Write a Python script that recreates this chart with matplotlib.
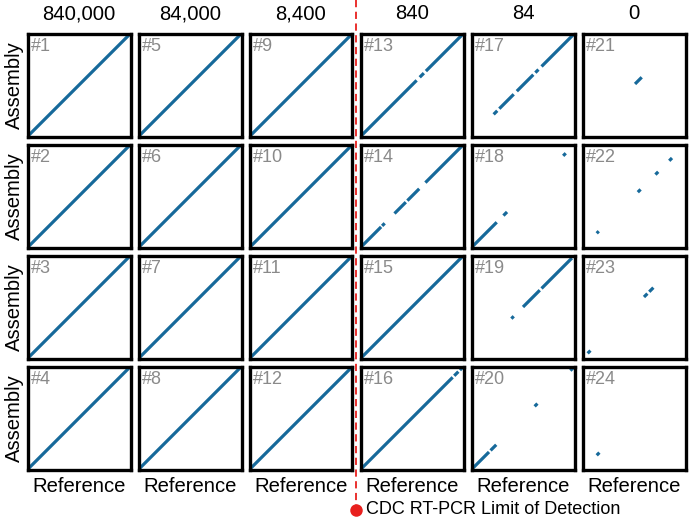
import matplotlib
matplotlib.use("Agg")
import matplotlib.pyplot as plt
from matplotlib.lines import Line2D

plt.rcParams['font.family'] = ['Liberation Sans', 'DejaVu Sans']

# Viral copies per column (dilution series)
concentrations = ["840,000", "84,000", "8,400", "840", "84", "0"]
n_rows = 4
lod_after_column = 3  # CDC limit of detection between column 3 and 4

# Aligned segments along the diagonal for each sample (#1..#24), as fractions of the genome
segments = {
    1: [(0.0, 1.0)], 2: [(0.0, 1.0)], 3: [(0.0, 1.0)], 4: [(0.0, 1.0)],
    5: [(0.0, 1.0)], 6: [(0.0, 1.0)], 7: [(0.0, 1.0)], 8: [(0.0, 1.0)],
    9: [(0.0, 1.0)], 10: [(0.0, 1.0)], 11: [(0.0, 1.0)], 12: [(0.0, 1.0)],
    13: [(0.0, 0.545), (0.575, 0.615), (0.635, 1.0)],
    14: [(0.0, 0.2), (0.21, 0.235), (0.33, 0.44), (0.455, 0.57), (0.63, 1.0)],
    15: [(0.0, 1.0)],
    16: [(0.0, 0.895), (0.91, 0.95), (0.965, 1.0)],
    17: [(0.215, 0.25), (0.27, 0.41), (0.44, 0.6), (0.62, 0.65), (0.68, 1.0)],
    18: [(0.0, 0.245), (0.31, 0.345), (0.89, 0.915)],
    19: [(0.387, 0.41), (0.5, 0.663), (0.68, 0.975)],
    20: [(0.007, 0.17), (0.185, 0.24), (0.613, 0.64), (0.96, 0.995)],
    21: [(0.51, 0.575)],
    22: [(0.0, 0.01), (0.138, 0.158), (0.537, 0.564), (0.708, 0.735), (0.842, 0.869)],
    23: [(0.05, 0.077), (0.597, 0.63), (0.648, 0.688)],
    24: [(0.138, 0.164)],
}

W, H = 692, 523
fig = plt.figure(figsize=(W / 100, H / 100), dpi=100)

line_color = '#16699a'
label_gray = '#8a8a8a'
left0, top0, step, size = 27.5, 33.5, 111.0, 103.0
big_font = 14.6

for j, conc in enumerate(concentrations):
    for i in range(n_rows):
        sample = 4 * j + i + 1
        left = left0 + step * j
        top = top0 + step * i
        ax = fig.add_axes([left / W, 1 - (top + size) / H, size / W, size / H])
        for s, e in segments[sample]:
            ax.plot([s, e], [s, e], color=line_color, lw=2.3, solid_capstyle='butt')
        ax.set_xlim(0, 1)
        ax.set_ylim(0, 1)
        ax.set_xticks([])
        ax.set_yticks([])
        for sp in ax.spines.values():
            sp.set_linewidth(2.4)
            sp.set_color('black')
        ax.text(0.035, 0.96, f"#{sample}", transform=ax.transAxes, ha='left', va='top',
                fontsize=13, color=label_gray)
        if i == 0:
            ax.text(0.5, 1.0 + 20 / size, conc, transform=ax.transAxes, ha='center',
                    va='center', fontsize=big_font)
        if i == n_rows - 1:
            ax.text(0.5, -17 / size, "Reference", transform=ax.transAxes, ha='center',
                    va='center', fontsize=big_font)
        if j == 0:
            ax.text(-13.5 / size, 0.5, "Assembly", transform=ax.transAxes, ha='center',
                    va='center', rotation=90, fontsize=big_font)

# Limit of detection marker between columns
x_lod = left0 + step * lod_after_column - (step - size) / 2 - 0.5
y_dot = 510
fig.add_artist(Line2D([x_lod / W, x_lod / W], [1.0, 1 - y_dot / H], color='#e8201e',
                      lw=1.3, linestyle=(0, (4, 2.5))))
fig.add_artist(Line2D([x_lod / W], [1 - y_dot / H], marker='o', markersize=9,
                      color='#e8201e', markeredgewidth=0))
fig.text((x_lod + 10) / W, 1 - y_dot / H, "CDC RT-PCR Limit of Detection", ha='left',
         va='center', fontsize=13)

fig.savefig("out.png", dpi=100)
